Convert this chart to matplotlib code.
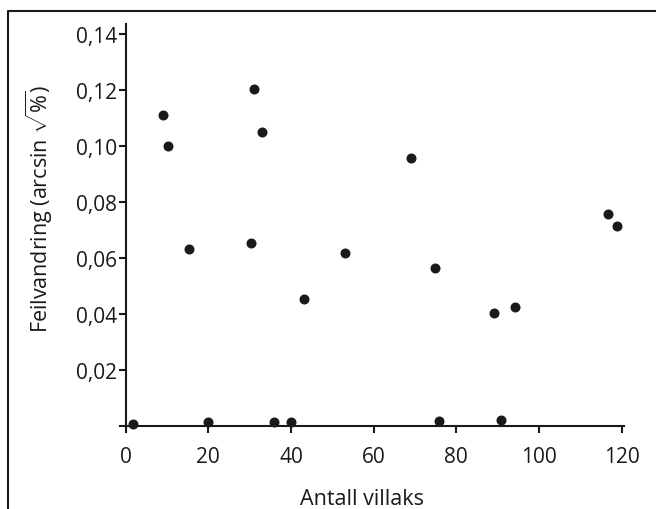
import matplotlib
matplotlib.use("Agg")
import matplotlib.pyplot as plt
from matplotlib.lines import Line2D

# Antall villaks vs feilvandring
antall = [1.7, 9.1, 10.2, 15.2, 20.0, 30.2, 31.0, 33.0, 36.0, 40.0,
          43.2, 53.0, 69.0, 74.9, 75.9, 89.0, 90.7, 94.1, 116.6, 118.9]
feil = [0.0009, 0.1110, 0.1001, 0.0632, 0.0015, 0.0653, 0.1205, 0.1051, 0.0015, 0.0014,
        0.0453, 0.0617, 0.0956, 0.0566, 0.0019, 0.0404, 0.0022, 0.0427, 0.0759, 0.0715]

xticks = [0, 20, 40, 60, 80, 100, 120]
yticks = [0.02, 0.04, 0.06, 0.08, 0.10, 0.12, 0.14]
ytick_labels = ["0,02", "0,04", "0,06", "0,08", "0,10", "0,12", "0,14"]

plt.rcParams["font.family"] = ["Open Sans", "DejaVu Sans"]
plt.rcParams["mathtext.fontset"] = "custom"
plt.rcParams["mathtext.rm"] = "Open Sans"
plt.rcParams["mathtext.it"] = "Open Sans"

fig = plt.figure(figsize=(6.56, 5.10), dpi=100)
ax = fig.add_axes([0.1828, 0.151, 0.7686, 0.80])

ax.scatter(antall, feil, s=52, color="#1a1a1a", zorder=3, linewidths=0)

ax.set_xlim(-1.4, 120.6)
ax.set_ylim(-0.002, 0.1436)
ax.spines["left"].set_position(("data", 0))
ax.spines["bottom"].set_position(("data", 0))
ax.spines["top"].set_visible(False)
ax.spines["right"].set_visible(False)
for s in ("left", "bottom"):
    ax.spines[s].set_linewidth(1.5)
    ax.spines[s].set_color("#1a1a1a")

ax.set_xticks(xticks)
ax.set_xticklabels([str(t) for t in xticks])
ax.set_yticks(yticks)
ax.set_yticklabels(ytick_labels)
ax.tick_params(axis="both", direction="out", length=5, width=1.5,
               color="#1a1a1a", labelsize=15, labelcolor="#1a1a1a")
ax.tick_params(axis="y", pad=1)
ax.tick_params(axis="x", pad=9)

ax.set_xlabel("Antall villaks", fontsize=15.5, color="#1a1a1a")
ax.xaxis.set_label_coords(0.48, -0.137)
ax.set_ylabel(r"Feilvandring (arcsin $\sqrt{\%}$)", fontsize=15.5, color="#1a1a1a")
ax.yaxis.set_label_coords(-0.128, 0.55)

# frame lines (left and top only)
fx = 8.3 / 656
fy = 1 - 11.7 / 510
fig.add_artist(Line2D([fx, fx, 1.0], [0.0, fy, fy], transform=fig.transFigure,
                      color="#1a1a1a", linewidth=1.5))

fig.savefig("out.png", dpi=100)
